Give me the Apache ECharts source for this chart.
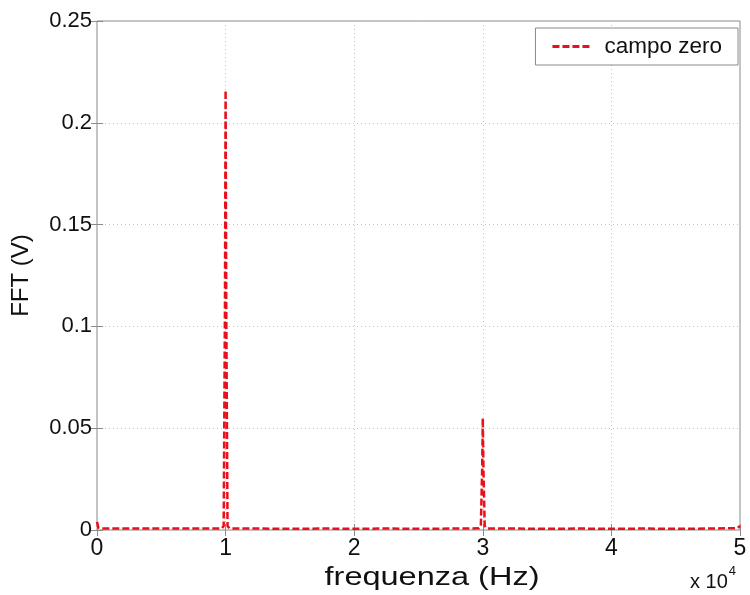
<!DOCTYPE html>
<html>
<head>
<meta charset="utf-8">
<title>campo zero</title>
<script src="https://cdn.jsdelivr.net/npm/echarts@6/dist/echarts.min.js"></script>
<style>
  html, body { margin: 0; padding: 0; background: #fff; }
  #chart { width: 750px; height: 595px; }
</style>
</head>
<body>
<div id="chart"></div>
<script>
// frequenza in unita di 10^4 Hz
var freq = [0, 0.01, 0.03, 0.25, 0.5, 0.75, 0.97, 0.985, 0.995, 1.0, 1.005, 1.015, 1.03,
  1.25, 1.5, 1.75, 2.0, 2.25, 2.5, 2.75, 2.97, 2.985, 2.995, 3.0, 3.005, 3.015, 3.03,
  3.25, 3.5, 3.75, 4.0, 4.25, 4.5, 4.75, 4.98, 5.0]
// FFT (V)
var amp = [0.004, 0.0012, 0.0008, 0.0007, 0.0008, 0.0007, 0.0008, 0.002, 0.11, 0.216, 0.11, 0.002, 0.0008,
  0.0007, 0.0006, 0.0007, 0.0006, 0.0007, 0.0006, 0.0007, 0.0008, 0.002, 0.03, 0.055, 0.03, 0.002, 0.0008,
  0.0007, 0.0006, 0.0007, 0.0006, 0.0007, 0.0006, 0.0007, 0.0009, 0.002]
var xTicks = [0, 1, 2, 3, 4, 5]
var yTicks = [0, 0.05, 0.1, 0.15, 0.2, 0.25]
var seriesName = 'campo zero'

var chart = echarts.init(document.getElementById('chart'))

var points = freq.map(function (f, i) { return [f, amp[i]] })

var font = 'Liberation Sans'
var textColor = '#111'
var frameColor = '#8a8a8a'
var red = '#e8111b'
var gridLine = {
  show: true,
  lineStyle: { color: '#c4c4c4', type: [1, 3], width: 1 }
}
var tickStyle = { show: true, inside: true, length: 6, lineStyle: { color: frameColor } }
// icona tratteggiata per la legenda (4 trattini)
var dashIcon = 'path://M0,0H7V3H0Z M10,0H17V3H10Z M20,0H27V3H20Z M30,0H37V3H30Z'

var option = {
  animation: false,
  backgroundColor: '#fff',
  grid: {
    left: 97,
    right: 10,
    top: 21,
    bottom: 65,
    show: true,
    borderColor: frameColor,
    borderWidth: 1
  },
  legend: {
    right: 12,
    top: 28,
    padding: [7, 16, 7, 17],
    borderColor: frameColor,
    borderWidth: 1,
    backgroundColor: '#fff',
    itemWidth: 37,
    itemHeight: 3,
    textStyle: { fontFamily: font, fontSize: 22.5, color: textColor, padding: [0, 0, 0, 10] },
    data: [{ name: seriesName, icon: dashIcon, itemStyle: { color: red } }]
  },
  xAxis: [{
    type: 'value',
    min: xTicks[0],
    max: xTicks[xTicks.length - 1],
    interval: 1,
    axisLine: { show: false },
    axisTick: tickStyle,
    axisLabel: { fontFamily: font, fontSize: 23, color: textColor, margin: 7 },
    splitLine: gridLine
  }, {
    // asse superiore solo per le tacche
    type: 'value',
    position: 'top',
    min: xTicks[0],
    max: xTicks[xTicks.length - 1],
    interval: 1,
    axisLine: { show: false },
    axisTick: tickStyle,
    axisLabel: { show: false },
    splitLine: { show: false }
  }],
  yAxis: [{
    type: 'value',
    min: yTicks[0],
    max: yTicks[yTicks.length - 1],
    interval: 0.05,
    name: 'FFT (V)',
    nameLocation: 'middle',
    nameGap: 64,
    nameTextStyle: { fontFamily: font, fontSize: 24, color: textColor },
    axisLine: { show: false },
    axisTick: tickStyle,
    axisLabel: {
      fontFamily: font, fontSize: 22, color: textColor, margin: 5,
      formatter: function (v) { return String(parseFloat(v.toFixed(2))) }
    },
    splitLine: gridLine
  }, {
    type: 'value',
    position: 'right',
    min: yTicks[0],
    max: yTicks[yTicks.length - 1],
    interval: 0.05,
    axisLine: { show: false },
    axisTick: tickStyle,
    axisLabel: { show: false },
    splitLine: { show: false }
  }],
  graphic: [{
    // titolo asse x, un po' allargato come nell'originale
    type: 'text',
    x: 432,
    y: 578,
    scaleX: 1.3,
    style: {
      text: 'frequenza (Hz)',
      x: 0,
      y: 0,
      align: 'center',
      verticalAlign: 'middle',
      fontFamily: font,
      fontSize: 25,
      fill: textColor
    }
  }, {
    type: 'text',
    right: 14,
    bottom: 3,
    style: {
      text: '{a|x 10}{b|4}',
      rich: {
        a: { fontFamily: font, fontSize: 20, fill: textColor, verticalAlign: 'bottom' },
        b: { fontFamily: font, fontSize: 13, fill: textColor, verticalAlign: 'top', padding: [0, 0, 14, 1] }
      }
    }
  }],
  series: [{
    name: seriesName,
    type: 'line',
    data: points,
    showSymbol: false,
    symbol: 'none',
    lineStyle: { color: red, width: 2.5, type: [7, 3] },
    itemStyle: { color: red }
  }]
}

chart.setOption(option)
</script>
</body>
</html>
